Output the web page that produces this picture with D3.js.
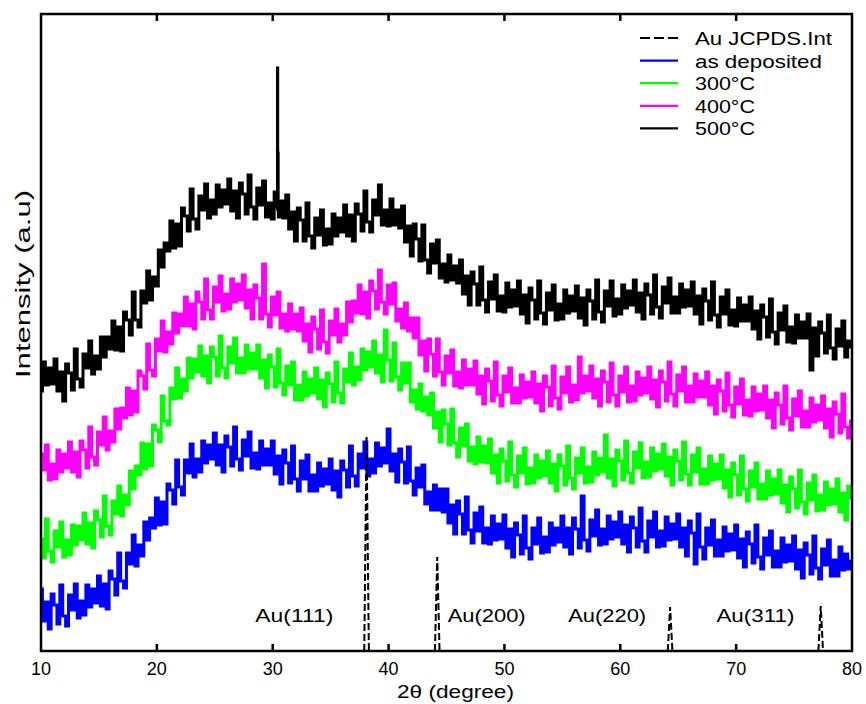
<!DOCTYPE html>
<html>
<head>
<meta charset="utf-8">
<script src="https://cdn.jsdelivr.net/npm/d3@7"></script>
<style>
  body { margin: 0; background: #fff; }
  text { font-family: "Liberation Sans", Arial, sans-serif; fill: #000; }
</style>
</head>
<body>
<div id="chart"></div>
<script>
// 2theta sampling grid (degrees), 0.25 deg step
var twoTheta = d3.range(10, 80.125, 0.25);

// Intensities (a.u.), stacked as plotted
var asDeposited = [
  62,30,49,22, 57,46,27,66,  35,25,56,41, 67,33,50,36,
  66,44,62,48, 75,45,67,42,  80,72,56,98, 70,63,98,87,
  116,85,106,95, 129,111,133,123,  153,126,149,127, 167,161,147,191,
  164,156,191,178, 207,174,192,179,  210,188,206,192, 218,186,206,179,
  215,204,185,224, 192,181,211,195,  219,183,198,182, 210,186,202,186,
  210,177,195,167, 201,188,168,205,  172,160,190,172, 196,160,176,160,
  188,165,182,167, 192,161,180,154,  190,181,164,205, 175,165,197,183,
  209,175,192,178, 208,185,203,188,  222,180,197,169, 202,189,168,204,
  170,156,183,164, 186,147,159,141,  166,141,162,139, 162,128,146,117,
  150,137,117,154, 121,108,138,120,  144,108,123,107, 135,111,127,112,
  136,103,122,94, 128,116,97,135,  103,92,123,107, 133,98,114,99,
  128,106,123,109, 135,104,123,97,  133,122,103,155, 111,100,131,115,
  141,106,122,107, 135,112,129,114,  139,107,126,99, 134,123,104,143,
  110,99,130,114, 139,104,120,105,  134,111,127,112, 137,104,123,95,
  130,118,87,137, 104,92,123,106,  131,95,111,95, 124,100,117,101,
  126,93,112,84, 119,107,88,126,  94,82,113,96, 120,84,100,84,
  113,89,106,90, 115,82,101,73,  108,96,77,115, 83,72,102,86,
  111,75,91,75, 104,81,97,82,
  90];

var t300 = [
  112,93,132,100, 89,120,104,129,  94,111,96,126, 106,125,111,138,
  107,128,103,140, 131,114,155,125,  116,150,137,165, 135,156,146,180,
  162,185,176,208, 182,207,185,226,  221,209,255,230, 226,263,252,283,
  253,272,260,293, 273,292,279,305,  275,295,268,304, 294,275,315,283,
  273,304,288,313, 278,293,278,306,  282,298,282,306, 273,291,263,296,
  284,264,302,268, 256,285,266,289,  251,266,251,279, 255,272,258,283,
  252,271,244,278, 267,249,289,258,  248,282,269,298, 266,284,271,302,
  281,299,284,310, 278,296,269,321,  291,270,308,274, 261,288,268,288,
  249,261,242,267, 240,254,236,258,  223,239,209,241, 227,206,242,208,
  194,223,205,227, 190,204,187,214,  189,205,188,212, 178,196,168,202,
  190,170,209,176, 164,195,178,203,  167,183,168,196, 173,190,175,200,
  168,187,160,196, 185,166,205,173,  162,193,178,203, 168,184,169,199,
  176,193,179,216, 173,192,165,201,  190,171,210,178, 168,199,183,208,
  173,189,174,203, 180,197,182,207,  175,194,166,201, 190,171,209,177,
  166,196,179,203, 167,182,167,195,  171,187,172,196, 163,181,154,188,
  176,156,195,162, 150,180,164,188,  152,167,152,180, 156,172,157,181,
  148,166,139,174, 162,143,181,149,  137,168,151,176, 140,156,141,169,
  146,162,147,172, 139,158,131,165,
  153];

var t400 = [
  197,181,206,171, 187,172,201,179,  197,183,209,179, 199,174,210,201,
  183,224,194,186, 219,206,234,201,  220,209,242,222, 243,233,263,236,
  260,239,280,275, 262,307,281,275,  312,300,330,299, 319,307,338,318,
  337,325,354,325, 347,322,359,349,  332,372,341,332, 364,349,375,340,
  357,342,372,349, 367,351,376,343,  361,332,366,353, 332,387,337,324,
  354,336,359,323, 337,320,347,322,  337,320,343,310, 327,299,334,322,
  302,341,309,298, 330,316,342,309,  327,316,349,329, 350,338,366,337,
  359,333,370,360, 342,381,349,337,  366,347,368,330, 342,323,348,320,
  333,313,333,296, 310,280,312,297,  275,312,279,266, 295,278,301,265,
  279,263,291,266, 282,266,290,257,  275,247,282,270, 250,289,256,245,
  275,259,283,248, 263,248,276,253,  269,254,279,248, 267,240,275,264,
  245,285,253,242, 274,258,284,249,  266,251,294,258, 275,260,285,253,
  272,245,280,269, 249,288,256,245,  275,259,284,249, 265,250,279,256,
  273,258,284,252, 271,244,280,269,  250,289,257,245, 276,260,284,249,
  265,249,277,254, 270,254,279,246,  265,237,271,260, 240,278,246,234,
  264,247,272,236, 251,235,264,240,  257,241,265,233, 251,223,258,246,
  227,265,233,221, 252,235,260,224,  240,224,253,229, 246,231,255,223,
  242,214,249,237, 218,257,224,213,
  230];

var t500 = [
  260,289,266,283, 267,292,260,279,  250,287,278,261, 302,272,264,297,
  283,310,277,295, 282,314,294,314,  302,330,301,324, 300,339,331,316,
  359,331,324,360, 348,380,351,374,  365,401,384,408, 400,430,403,427,
  405,443,435,420, 462,432,422,455,  441,467,433,451, 437,466,444,461,
  447,472,440,460, 433,468,457,437,  476,444,432,463, 446,470,434,448,
  432,459,434,450, 433,456,422,439,  410,443,431,410, 448,415,403,433,
  416,441,406,422, 407,437,415,433,  419,446,415,436, 410,447,437,420,
  460,429,419,451, 436,466,426,441,  425,452,426,441, 423,445,409,425,
  395,427,412,390, 426,391,378,407,  388,411,373,387, 369,396,371,385,
  368,391,357,375, 346,379,367,346,  384,351,339,369, 352,376,340,355,
  339,368,344,361, 345,370,337,356,  328,363,351,332, 370,338,327,358,
  341,366,331,347, 332,361,338,355,  340,365,333,353, 326,361,350,332,
  371,339,329,360, 345,370,335,352,  337,366,343,360, 346,371,339,358,
  332,367,356,337, 376,344,333,364,  348,373,338,354, 338,367,344,361,
  345,369,337,355, 327,362,350,331,  369,336,324,354, 337,361,326,341,
  325,353,330,346, 330,354,322,340,  312,346,334,314, 352,319,307,338,
  321,345,309,324, 308,336,313,329,  313,337,281,323, 295,329,318,298,
  336,303,292,322, 305,330,294,310,
  304];

// sharp reflection in the 500 C pattern
var spike500Theta = [30.40, 30.42, 30.44, 30.46, 30.48];
var spike500Int = [444, 583, 442, 498, 440];

// Au JCPDS reference lines
var jcpdsPos = [38.1, 44.2, 64.3, 77.3];
var jcpdsInt = [214, 94, 44, 45];
var jcpdsHkl = ["Au(111)", "Au(200)", "Au(220)", "Au(311)"];

var xTicks = [10, 20, 30, 40, 50, 60, 70, 80];

var seriesNames = ["Au JCPDS.Int", "as deposited", "300\u00B0C", "400\u00B0C", "500\u00B0C"];
var seriesColors = ["#000", "#0000ff", "#00ff00", "#ff00ff", "#000"];

var svgWidth = 866, svgHeight = 704;
var margin = { top: 14, right: 14, bottom: 53, left: 41 };
var width = svgWidth - margin.left - margin.right;
var height = svgHeight - margin.top - margin.bottom;

var svg = d3.select("#chart").append("svg")
  .attr("width", svgWidth)
  .attr("height", svgHeight);

var chartGroup = svg.append("g")
  .attr("transform", `translate(${margin.left}, ${margin.top})`);

var xScale = d3.scaleLinear().domain([10, 80]).range([0, width]);
var yScale = d3.scaleLinear().domain([0, 637]).range([height, 0]);

// dense scan data is drawn as steps, like the detector output
var stepLine = d3.line()
  .curve(d3.curveStep)
  .x(d => xScale(d[0]))
  .y(d => yScale(d[1]));

var line = d3.line()
  .x(d => xScale(d[0]))
  .y(d => yScale(d[1]));

// build point lists
var blueData = twoTheta.map((t, i) => [t, asDeposited[i]]);
var greenData = twoTheta.map((t, i) => [t, t300[i]]);
var magentaData = twoTheta.map((t, i) => [t, t400[i]]);
var blackData = twoTheta.map((t, i) => [t, t500[i]])
  .concat(spike500Theta.map((t, i) => [t, spike500Int[i]]))
  .sort((a, b) => a[0] - b[0]);

chartGroup.append("clipPath").attr("id", "plotclip")
  .append("rect").attr("width", width).attr("height", height);

var plot = chartGroup.append("g").attr("clip-path", "url(#plotclip)");

[[blueData, seriesColors[1]], [greenData, seriesColors[2]],
 [magentaData, seriesColors[3]], [blackData, seriesColors[4]]].forEach(s => {
  plot.append("path")
    .datum(s[0])
    .attr("d", stepLine)
    .attr("fill", "none")
    .attr("stroke", s[1])
    .attr("stroke-width", 3);
});

// reference lines (narrow dashed peaks)
jcpdsPos.forEach((p, i) => {
  var pts = [[p - 0.2, 0], [p, jcpdsInt[i]], [p + 0.2, 0]];
  plot.append("path")
    .datum(pts)
    .attr("d", line)
    .attr("fill", "none")
    .attr("stroke", "#000")
    .attr("stroke-width", 2)
    .attr("stroke-dasharray", "7,3");
});

// hkl labels
var labelTheta = [28.5, 45.1, 55.5, 68.3];
chartGroup.selectAll(".hkl")
  .data(jcpdsHkl)
  .enter()
  .append("text")
  .attr("x", (d, i) => xScale(labelTheta[i]))
  .attr("y", yScale(29))
  .attr("font-size", "18px")
  .attr("textLength", 78)
  .attr("lengthAdjust", "spacingAndGlyphs")
  .text(d => d);

// frame
chartGroup.append("rect")
  .attr("width", width)
  .attr("height", height)
  .attr("fill", "none")
  .attr("stroke", "#000")
  .attr("stroke-width", 2.5);

// inward ticks, top and bottom
var innerTicks = xTicks.slice(1, -1);
chartGroup.selectAll(".tickb")
  .data(innerTicks).enter().append("line")
  .attr("x1", d => xScale(d)).attr("x2", d => xScale(d))
  .attr("y1", height).attr("y2", height - 7)
  .attr("stroke", "#000").attr("stroke-width", 2.5);
chartGroup.selectAll(".tickt")
  .data(innerTicks).enter().append("line")
  .attr("x1", d => xScale(d)).attr("x2", d => xScale(d))
  .attr("y1", 0).attr("y2", 7)
  .attr("stroke", "#000").attr("stroke-width", 2.5);

chartGroup.selectAll(".ticklabel")
  .data(xTicks).enter().append("text")
  .attr("x", d => xScale(d))
  .attr("y", height + 24)
  .attr("text-anchor", "middle")
  .attr("font-size", "18px")
  .text(d => d);

// axis titles
chartGroup.append("text")
  .attr("x", 356)
  .attr("y", height + 47)
  .attr("font-size", "18px")
  .attr("textLength", 117)
  .attr("lengthAdjust", "spacingAndGlyphs")
  .text("2\u03B8 (degree)");

chartGroup.append("text")
  .attr("transform", "rotate(-90)")
  .attr("x", -(378 - margin.top))
  .attr("y", 30 - margin.left)
  .attr("font-size", "20px")
  .attr("textLength", 188)
  .attr("lengthAdjust", "spacingAndGlyphs")
  .text("Intensity (a.u)");

// legend
var legendLen = [137, 127, 60, 60, 60];
var legend = svg.append("g");
seriesNames.forEach((name, i) => {
  var cy = 38 + i * 22.6;
  legend.append("line")
    .attr("x1", 640).attr("x2", 678)
    .attr("y1", cy).attr("y2", cy)
    .attr("stroke", seriesColors[i])
    .attr("stroke-width", 2.2)
    .attr("stroke-dasharray", i === 0 ? "10,4" : null);
  legend.append("text")
    .attr("x", 695)
    .attr("y", cy + 7)
    .attr("font-size", "19px")
    .attr("textLength", legendLen[i])
    .attr("lengthAdjust", "spacingAndGlyphs")
    .text(name);
});
</script>
</body>
</html>
